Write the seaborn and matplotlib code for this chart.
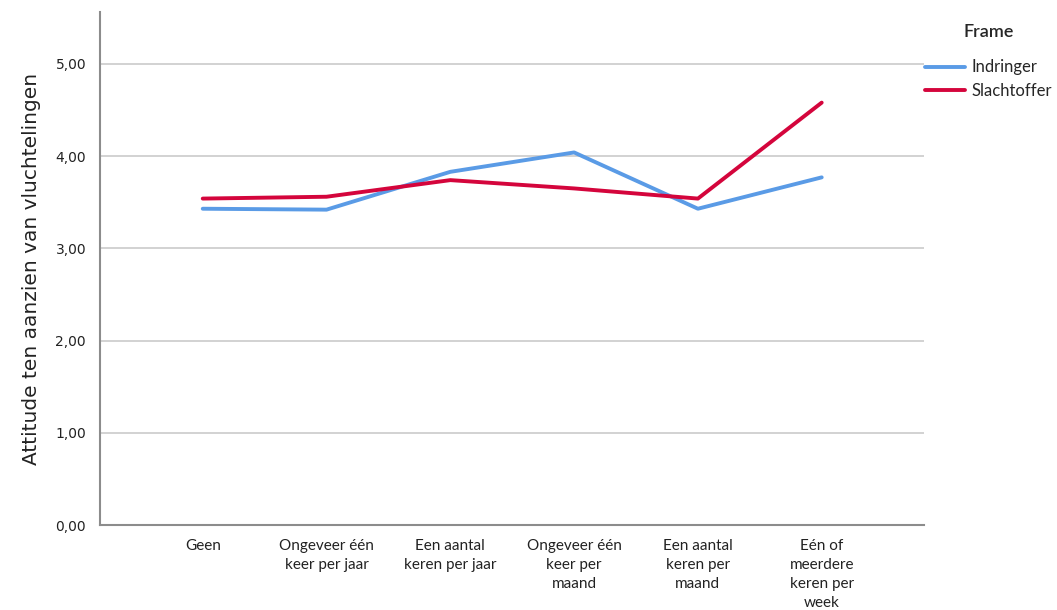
import numpy as np
import pandas as pd
import seaborn as sns
from matplotlib import pyplot as plt

# categories and group means
categories = ["Geen", "Ongeveer één\nkeer per jaar", "Een aantal\nkeren per jaar",
              "Ongeveer één\nkeer per\nmaand", "Een aantal\nkeren per\nmaand",
              "Eén of\nmeerdere\nkeren per\nweek"]
indringer = [3.43, 3.42, 3.83, 4.04, 3.43, 3.77]
slachtoffer = [3.54, 3.56, 3.74, 3.65, 3.54, 4.58]
frames = ["Indringer", "Slachtoffer"]
yticks = [0, 1, 2, 3, 4, 5]

records = []
for frame, values in zip(frames, [indringer, slachtoffer]):
    for cat, val in zip(categories, values):
        records.append({"Categorie": cat, "Attitude": val, "Frame": frame})
df = pd.DataFrame(records)

sns.set_theme(style="white")
plt.rcParams["font.family"] = ["DejaVu Sans"]

fig = plt.figure(figsize=(10.57, 6.10), dpi=100)
ax = fig.add_axes([0.0946, 0.139, 0.78, 0.841])

palette = {"Indringer": "#5a9be6", "Slachtoffer": "#d4053c"}
sns.lineplot(data=df, x="Categorie", y="Attitude", hue="Frame", palette=palette,
             sort=False, linewidth=2.8, ax=ax, zorder=3)

ax.set_xlim(-0.83, 5.83)
ax.set_ylim(0, 5.56)
ax.set_yticks(yticks)
ax.set_yticklabels([f"{v:.2f}".replace(".", ",") for v in yticks], fontsize=10, color="#222222")
ax.set_xticks(range(len(categories)))
ax.set_xticklabels(categories, fontsize=11, family="Lato", color="#222222", linespacing=1.45)
ax.tick_params(axis="x", length=0, pad=10)
ax.tick_params(axis="y", length=0, pad=10)
ax.grid(axis="y", color="#d2d2d2", linewidth=1.4, zorder=0)
ax.set_axisbelow(True)
for side in ["top", "right"]:
    ax.spines[side].set_visible(False)
for side in ["left", "bottom"]:
    ax.spines[side].set_color("#8c8c8c")
    ax.spines[side].set_linewidth(1.5)

ax.set_xlabel("")
ax.set_ylabel("Attitude ten aanzien van vluchtelingen", fontsize=14.5, color="#222222", labelpad=10)

leg = ax.legend(title="Frame", loc="upper left", bbox_to_anchor=(0.993, 0.99),
                frameon=False, fontsize=12, handlelength=2.4, handletextpad=0.35,
                labelspacing=0.45, borderaxespad=0)
leg.get_title().set_fontsize(13)
leg.get_title().set_fontweight("semibold")
leg.get_title().set_family("Lato")
leg._legend_box.sep = 14
for t in leg.get_texts():
    t.set_family("Lato")
for line in leg.get_lines():
    line.set_linewidth(2.8)

fig.savefig("out.png", dpi=100)
